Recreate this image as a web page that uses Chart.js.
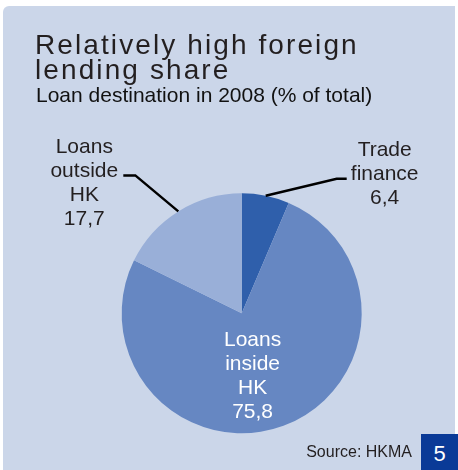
<!DOCTYPE html>
<html>
<head>
<meta charset="utf-8">
<script src="https://cdn.jsdelivr.net/npm/chart.js@4"></script>
<style>
  html, body { margin: 0; padding: 0; background: #ffffff; }
  #frame { position: relative; width: 458px; height: 470px; overflow: hidden; }
  #panel { position: absolute; left: 3px; top: 6px; right: 3px; bottom: 0; background: #cbd6e9; border-top-left-radius: 6px; }
  canvas { position: absolute; left: 0; top: 0; }
  .txt { position: absolute; font-family: "Liberation Sans", Arial, sans-serif; white-space: nowrap; }
  #title { left: 35px; top: 32px; font-size: 28px; line-height: 25px; letter-spacing: 2.1px; color: #231f20; }
  #subtitle { left: 36px; top: 84px; font-size: 21px; line-height: 21px; color: #111111; }
  #source { right: 46px; top: 443.5px; font-size: 16px; line-height: 16px; color: #231f20; }
  #page { left: 421px; top: 434px; width: 37px; height: 36px; background: #0a3a97; color: #ffffff; font-size: 22px; line-height: 36px; padding-top: 2px; box-sizing: border-box; text-align: center; }
</style>
</head>
<body>
<div id="frame">
  <div id="panel"></div>
  <canvas id="chart-pie" width="458" height="470"></canvas>
  <div class="txt" id="title">Relatively high foreign<br>lending share</div>
  <div class="txt" id="subtitle">Loan destination in 2008 (% of total)</div>
  <div class="txt" id="source">Source: HKMA</div>
  <div class="txt" id="page">5</div>
</div>
<script>
const categories = ['Trade finance', 'Loans inside HK', 'Loans outside HK'];
const labelLines = [['Trade', 'finance'], ['Loans', 'inside', 'HK'], ['Loans', 'outside', 'HK']];
const shares = [6.4, 75.8, 17.7];
const sliceColors = ['#2f5fab', '#6687c2', '#99afd8'];

const fmt = (v) => v.toFixed(1).replace('.', ',');

// leader = elbow offset from arc edge + horizontal tail; inside = label sits on the slice
const labelStyle = [
  { leader: { elbow: [71, -17], tail: 10 }, textDx: 38, firstBaseline: -23, color: '#231f20' },
  { inside: true, offset: [-10, -23.5], color: '#ffffff' },
  { leader: { elbow: [-43, -36], tail: -12 }, textDx: -39, firstBaseline: -22, color: '#231f20' },
];

const sliceLabels = {
  id: 'sliceLabels',
  afterDatasetsDraw(chart) {
    const ctx = chart.ctx;
    const arcs = chart.getDatasetMeta(0).data;
    const lineH = 24;
    ctx.save();
    ctx.font = '21px "Liberation Sans", Arial, sans-serif';
    ctx.textAlign = 'center';
    ctx.textBaseline = 'alphabetic';
    arcs.forEach((arc, i) => {
      const st = labelStyle[i];
      const lines = [...labelLines[i], fmt(shares[i])];
      const { x, y, startAngle, endAngle, outerRadius } = arc.getProps(['x', 'y', 'startAngle', 'endAngle', 'outerRadius'], true);
      const mid = (startAngle + endAngle) / 2;
      let cx, by;
      if (st.inside) {
        const p = arc.tooltipPosition(true);
        cx = p.x + st.offset[0];
        by = p.y + st.offset[1];
      } else {
        const ax = x + Math.cos(mid) * outerRadius;
        const ay = y + Math.sin(mid) * outerRadius;
        const ex = ax + st.leader.elbow[0];
        const ey = ay + st.leader.elbow[1];
        const tx = ex + st.leader.tail;
        ctx.beginPath();
        ctx.moveTo(ax, ay);
        ctx.lineTo(ex, ey);
        ctx.lineTo(tx, ey);
        ctx.lineWidth = 2.5;
        ctx.strokeStyle = '#000000';
        ctx.lineJoin = 'miter';
        ctx.stroke();
        cx = tx + st.textDx;
        by = ey + st.firstBaseline;
      }
      ctx.fillStyle = st.color;
      lines.forEach((t, k) => ctx.fillText(t, cx, by + k * lineH));
    });
    ctx.restore();
  },
};

new Chart(document.getElementById('chart-pie').getContext('2d'), {
  type: 'pie',
  data: {
    labels: categories,
    datasets: [{
      data: shares,
      backgroundColor: sliceColors,
      borderWidth: 0,
      hoverOffset: 0,
    }],
  },
  options: {
    responsive: false,
    animation: false,
    layout: { padding: { left: 121.7, right: 96.3, top: 193.3, bottom: 36.7 } },
    plugins: {
      legend: { display: false },
      tooltip: { enabled: false },
      title: { display: false },
    },
  },
  plugins: [sliceLabels],
});
</script>
</body>
</html>
